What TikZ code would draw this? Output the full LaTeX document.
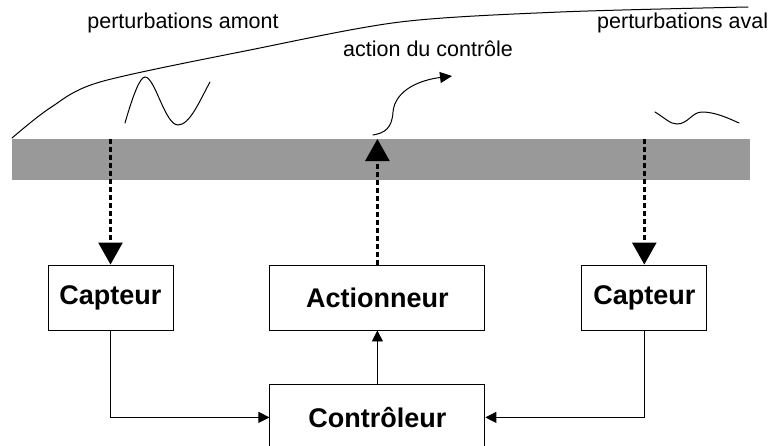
\documentclass[tikz,border=0pt]{standalone}
\usepackage{fontspec}
\setmainfont{Liberation Sans}
\usepackage{tikz}
\usetikzlibrary{arrows.meta,positioning,calc}
\definecolor{barGray}{RGB}{153,153,153}

\begin{document}
\begin{tikzpicture}[
                x=1pt, y=-1pt,
                font=\fontsize{21.5}{25}\selectfont,
                >=Latex,
                block/.style={draw, line width=0.9pt, minimum height=65pt, minimum width=125pt, align=center, inner sep=0pt, font=\fontsize{27}{31}\selectfont\bfseries},
                wideblock/.style={block, minimum width=215pt},
                label/.style={inner sep=0pt},
                line/.style={-{Triangle[length=11pt, width=11pt]}, line width=0.9pt},
                sensorline/.style={-{Triangle[length=22pt, width=24pt]}, line width=2.6pt, dash pattern=on 5pt off 3pt},
                wave/.style={line width=1pt, line cap=round},
            ]
            \useasboundingbox (0,0) rectangle (772,445);
            \clip (0,0) rectangle (772,445);

            % ----- Flow (grey bar) -----
            \fill[barGray] (12,139) rectangle (750,180);

            % boundary layer edge
            \draw[wave] plot[smooth] coordinates {(12,138) (50,108) (100,82) (250,50) (400,22) (560,12) (748,7)};

            \node[label] (amont) at (183,23) {perturbations amont};
            \node[label, anchor=west] (aval) at (597,23) {perturbations aval};
            \node[label, anchor=west] (action) at (343,49) {action du contrôle};

            % disturbances
            \draw[wave] (125,123) .. controls (133,95) and (140,77) .. (145,77)
                .. controls (155,77) and (165,125) .. (178,125)
                .. controls (190,125) and (200,100) .. (210,82);
            \draw[wave] (655,112) .. controls (665,118) and (670,124) .. (677,124)
                .. controls (688,124) and (692,112) .. (702,112)
                .. controls (715,112) and (728,118) .. (739,123);

            % control action
            \draw[wave, -{Triangle[length=12pt, width=11pt]}] (373,135) .. controls (385,133) and (392,128) .. (393,112)
                .. controls (395,90) and (420,80) .. (452,76);

            % ----- Blocks -----
            \node[block] (capt1) at (110.5,297.5) {Capteur};
            \node[wideblock, right=96pt of capt1] (act) {Actionneur};
            \node[block, right=96pt of act] (capt2) {Capteur};
            \node[wideblock, below=54pt of act] (ctrl) {Contrôleur};

            \coordinate (bar1) at (capt1.north |- 0,139);
            \coordinate (bar2) at (act.north |- 0,139);
            \coordinate (bar3) at (capt2.north |- 0,139);

            % sensing / actuation through the flow
            \draw[sensorline] (bar1) -- (capt1.north);
            \draw[sensorline] (act.north) -- (bar2);
            \draw[sensorline] (bar3) -- (capt2.north);

            % wiring to the controller
            \draw[line] (capt1.south) |- (ctrl.west);
            \draw[line] (capt2.south) |- (ctrl.east);
            \draw[line] (ctrl.north) -- (act.south);

\end{tikzpicture}
\end{document}
